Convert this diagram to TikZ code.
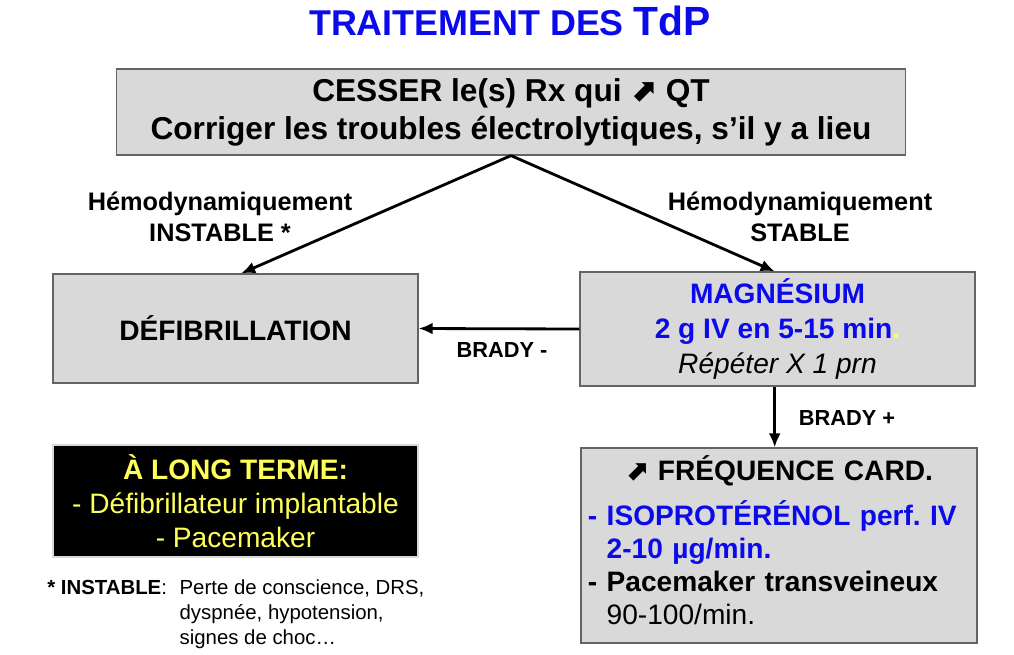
\documentclass[tikz,border=0pt]{standalone}
\usepackage{fontspec}
\setmainfont{Liberation Sans}
\newfontfamily\symfont{DejaVu Sans}
\usepackage{tikz}
\usetikzlibrary{arrows.meta}
\usepackage{xcolor}
\definecolor{boxgray}{RGB}{217,217,217}
\definecolor{boxedge}{RGB}{100,100,100}
\definecolor{doseblue}{RGB}{10,10,235}
\definecolor{noteyellow}{RGB}{255,255,90}
\newcommand{\uparr}{{\symfont\bfseries ⬈}}
\frenchspacing

\begin{document}
\begin{tikzpicture}[
    x=0.025cm, y=-0.025cm,
    box/.style={rectangle, draw=boxedge, fill=boxgray, line width=0.8pt,
        inner sep=0pt, align=center},
    label/.style={font=\fontsize{18}{22}\selectfont\bfseries, align=center},
    arrow/.style={-{Latex[length=10pt,width=8.5pt]}, line width=2pt, black}
]
    \useasboundingbox (0,0) rectangle (1014,654);

    % Title
    \node[font=\bfseries, text=doseblue] (title) at (510,21)
        {\fontsize{25.5}{28}\selectfont TRAITEMENT DES \fontsize{29}{32}\selectfont TdP};

    % Top box
    \node[box, minimum width=19.7cm, minimum height=2.15cm,
        font=\fontsize{22.5}{27}\selectfont\bfseries] (stop) at (511,112)
        {CESSER le(s) Rx qui \uparr{} QT\\Corriger les troubles électrolytiques, s’il y a lieu};

    % Second row
    \node[box, minimum width=9.125cm, minimum height=2.725cm,
        font=\fontsize{20}{24}\selectfont\bfseries] (defib) at (235.5,328.5) {DÉFIBRILLATION};
    \node[box, minimum width=9.875cm, minimum height=2.85cm,
        font=\fontsize{20}{25}\selectfont] (mg) at (777.5,329)
        {\textcolor{doseblue}{\bfseries MAGNÉSIUM}\\
         \textcolor{doseblue}{\bfseries 2 g IV en 5-15 min}\textcolor{noteyellow}{\bfseries .}\\
         \itshape Répéter X 1 prn};

    % Third row
    \node[box, minimum width=9.9cm, minimum height=4.875cm, text width=9.55cm, align=left,
        font=\fontsize{20}{23.5}\selectfont] (freq) at (779,545.5)
        {{\centering\bfseries \uparr{} FRÉQUENCE CARD.\par}\vspace{8.5pt}
         {\raggedright\bfseries\color{doseblue}- ISOPROTÉRÉNOL perf. IV\\
         \phantom{- }2-10 µg/min.\par}
         {\raggedright\bfseries - Pacemaker transveineux\par}
         {\raggedright\phantom{\bfseries - }90-100/min.\par}\vspace{8pt}\hrule height 0pt};
    \node[box, fill=black, draw=boxgray, minimum width=9.125cm, minimum height=2.8cm,
        text=noteyellow, font=\fontsize{20}{24}\selectfont] (long) at (235.5,501)
        {\textbf{À LONG TERME:}\\- Défibrillateur implantable\\- Pacemaker};

    % Footnote
    \node[anchor=north west, inner sep=0pt, font=\fontsize{14.5}{18}\selectfont] (note) at (47,576)
        {\begin{tabular}{@{}l@{\hspace{9pt}}l@{}}
         \textbf{* INSTABLE}: & Perte de conscience, DRS,\\
         & dyspnée, hypotension,\\
         & signes de choc…
         \end{tabular}};

    % Labels
    \node[label] (unstable) at (220,217) {Hémodynamiquement\\INSTABLE *};
    \node[label] (stable) at (800,217) {Hémodynamiquement\\STABLE};
    \node[label, font=\fontsize{15.5}{18}\selectfont\bfseries] (bradyminus) at (502,350) {BRADY -};
    \node[label, font=\fontsize{15.5}{18}\selectfont\bfseries] (bradyplus) at (847,418) {BRADY +};

    \draw[arrow] (stop.south) -- ([xshift=4pt]defib.north);
    \draw[arrow] (stop.south) -- ([xshift=-2pt]mg.north);
    \draw[arrow] (mg.west) -- (defib.east);
    \draw[arrow] ([xshift=-2pt]mg.south) -- ([xshift=-2pt]mg.south |- freq.north);
\end{tikzpicture}
\end{document}
